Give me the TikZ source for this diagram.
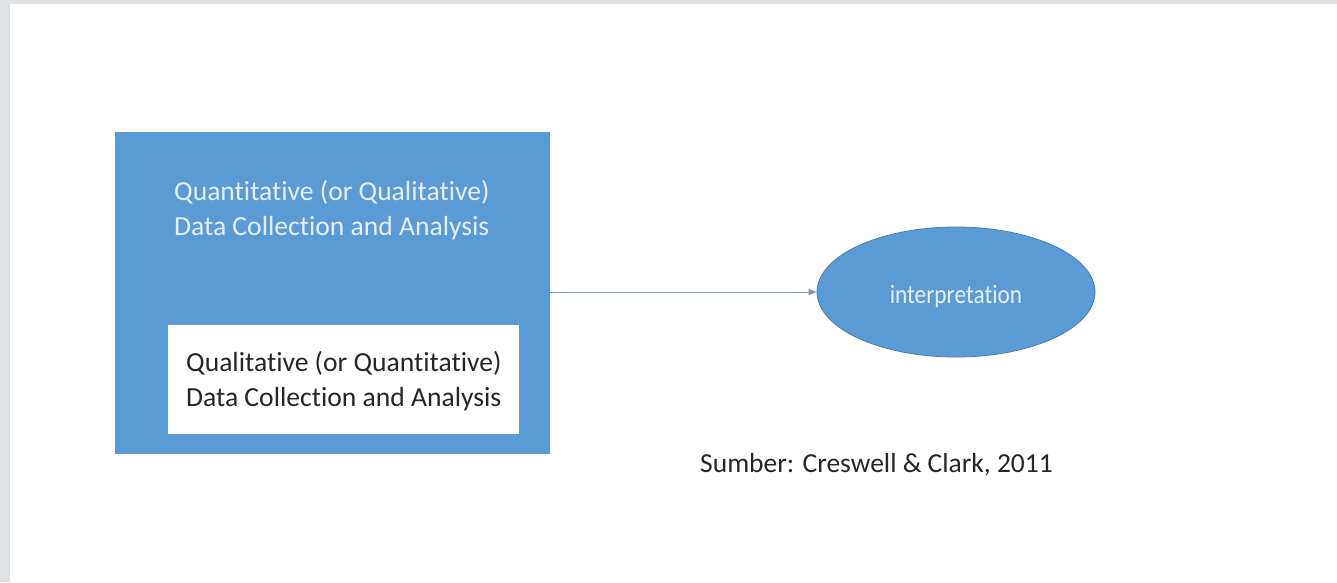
\documentclass[tikz,border=0pt]{standalone}
\usepackage{fontspec}
\setmainfont[Ligatures=NoCommon]{Carlito}
\usetikzlibrary{arrows.meta,shapes.geometric}
\definecolor{officeblue}{HTML}{5B9BD5}
\definecolor{edgeblue}{HTML}{4A7FB0}
\definecolor{framegray}{HTML}{DFE2E5}
\definecolor{arrowgray}{HTML}{7A94B4}
\definecolor{lighttext}{HTML}{E6F0FA}
\definecolor{darktext}{HTML}{262626}
\tikzset{
  outerbox/.style={fill=officeblue, draw=none, minimum width=435pt, minimum height=322pt, inner sep=0pt},
  innerbox/.style={fill=white, draw=none, minimum width=351pt, minimum height=109pt, inner sep=0pt},
  boxtext/.style={align=left, font=\fontsize{27.6}{35}\selectfont, inner sep=0pt, anchor=base west},
  ovalnode/.style={ellipse, fill=officeblue, draw=edgeblue, line width=0.8pt,
    minimum width=278pt, minimum height=130pt, inner sep=0pt},
  link/.style={draw=arrowgray, line width=1pt, -{Triangle[length=8pt,width=6pt]}}
}
\begin{document}
\begin{tikzpicture}[x=1pt,y=-1pt]
\fill[framegray] (0,0) rectangle (1337,582);
\fill[white] (10,4) rectangle (1337,582);
\useasboundingbox (0,0) rectangle (1337,582);
\node[outerbox] (outer) at (332.5,293) {};
\node[innerbox] (inner) at (343.5,379.5) {};
\node[boxtext, text=lighttext] (toptext) at (174,235) {Quantitative (or Qualitative)\\Data Collection and Analysis};
\node[boxtext, text=darktext] (innertext) at (186,406) {Qualitative (or Quantitative)\\Data Collection and Analysis};
\node[ovalnode] (interp) at (956,292) {};
\node[font=\fontsize{26.5}{30}\selectfont, text=lighttext, inner sep=0pt, anchor=base] (interplabel) at (956,303) {\scalebox{0.88}[1]{interpretation}};
\draw[link] (outer.east |- interp.west) -- (interp.west);
\node[font=\fontsize{27.5}{32}\selectfont, text=darktext, anchor=base west, inner sep=0pt] (source) at (700,472) {Sumber: Creswell \& Clark, 2011};
\end{tikzpicture}
\end{document}
